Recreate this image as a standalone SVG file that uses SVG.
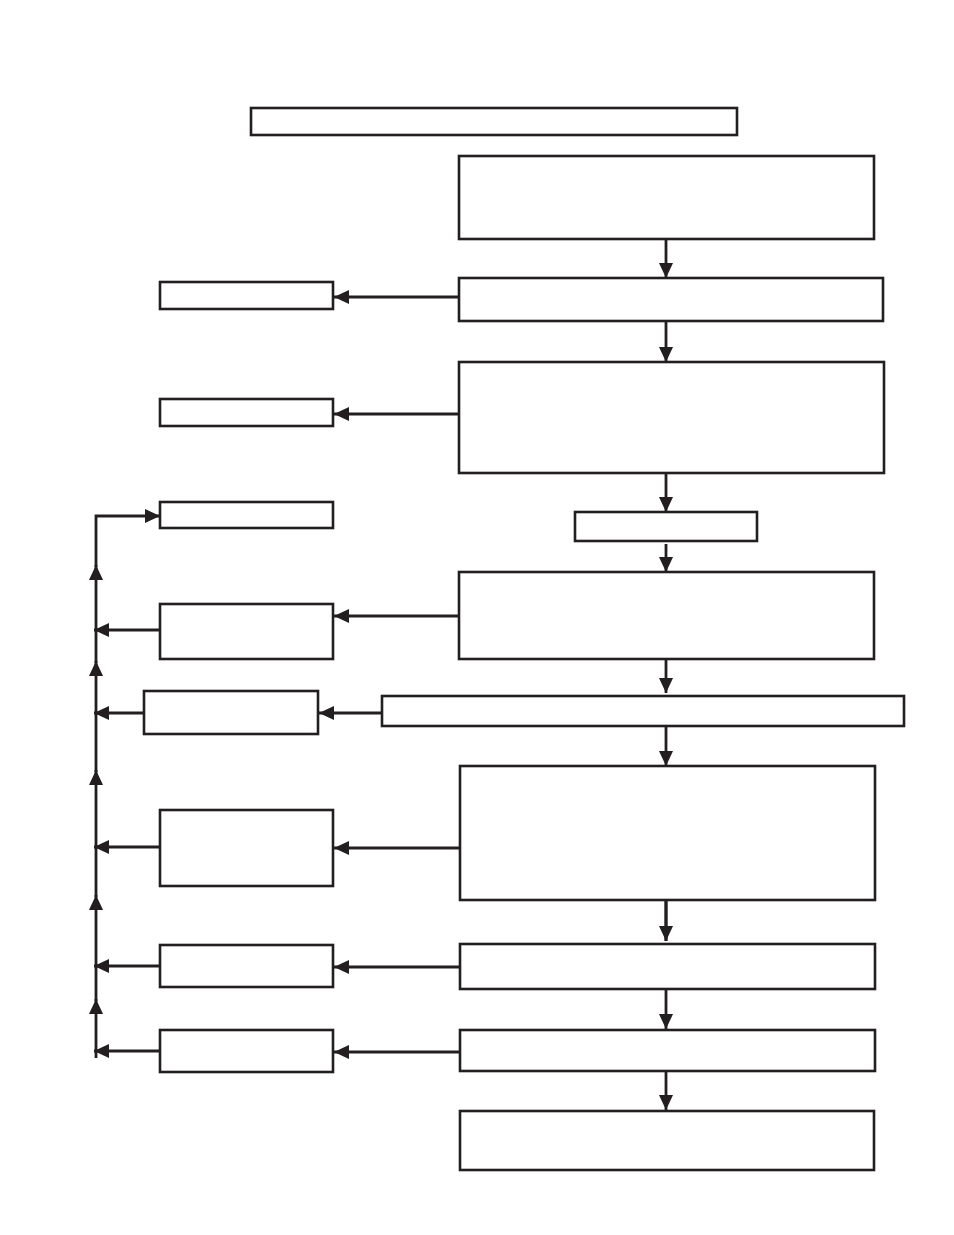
<svg xmlns="http://www.w3.org/2000/svg" width="954" height="1235" viewBox="0 0 954 1235">
<style>
.box{fill:#fff;stroke:#231f20;stroke-width:2.6}
.c{fill:none;stroke:#231f20;stroke-width:2.8}
</style>
<defs>
<marker id="ah" markerUnits="userSpaceOnUse" markerWidth="15" markerHeight="14" refX="15" refY="7" orient="auto">
<path d="M0,0 L15,7 L0,14 z" fill="#231f20"/>
</marker>
</defs>
<rect width="954" height="1235" fill="#fff"/>
<g id="title"><rect class="box" x="251" y="108" width="486" height="27"/></g>
<g id="b1"><rect class="box" x="459" y="156" width="415" height="83"/></g>
<g id="b2"><rect class="box" x="459" y="278" width="424" height="43"/></g>
<g id="b3"><rect class="box" x="459" y="362" width="425" height="111"/></g>
<g id="b4"><rect class="box" x="575" y="512" width="182" height="29"/></g>
<g id="b5"><rect class="box" x="459" y="572" width="415" height="87"/></g>
<g id="b6"><rect class="box" x="382" y="696" width="522" height="30"/></g>
<g id="b7"><rect class="box" x="460" y="766" width="415" height="134"/></g>
<g id="b8"><rect class="box" x="460" y="944" width="415" height="45"/></g>
<g id="b9"><rect class="box" x="460" y="1030" width="415" height="41"/></g>
<g id="b10"><rect class="box" x="460" y="1111" width="414" height="59"/></g>
<g id="l1"><rect class="box" x="160" y="282" width="173" height="27"/></g>
<g id="l2"><rect class="box" x="160" y="399" width="173" height="27"/></g>
<g id="l3"><rect class="box" x="160" y="502" width="173" height="26"/></g>
<g id="l4"><rect class="box" x="160" y="604" width="173" height="55"/></g>
<g id="l5"><rect class="box" x="144" y="691" width="174" height="43"/></g>
<g id="l6"><rect class="box" x="160" y="810" width="173" height="76"/></g>
<g id="l7"><rect class="box" x="160" y="945" width="173" height="42"/></g>
<g id="l8"><rect class="box" x="160" y="1030" width="173" height="42"/></g>
<g id="connectors">
<line class="c" x1="666" y1="240" x2="666" y2="278" marker-end="url(#ah)"/>
<line class="c" x1="666" y1="322" x2="666" y2="362" marker-end="url(#ah)"/>
<line class="c" x1="666" y1="474" x2="666" y2="512" marker-end="url(#ah)"/>
<line class="c" x1="666" y1="544" x2="666" y2="572" marker-end="url(#ah)"/>
<line class="c" x1="666" y1="660" x2="666" y2="693" marker-end="url(#ah)"/>
<line class="c" x1="666" y1="727" x2="666" y2="766" marker-end="url(#ah)"/>
<line class="c" x1="666" y1="901" x2="666" y2="941" marker-end="url(#ah)" style="stroke-width:3.4"/>
<line class="c" x1="666" y1="990" x2="666" y2="1029" marker-end="url(#ah)"/>
<line class="c" x1="666" y1="1072" x2="666" y2="1110" marker-end="url(#ah)"/>
<line class="c" x1="459" y1="297" x2="334" y2="297" marker-end="url(#ah)"/>
<line class="c" x1="459" y1="414" x2="334" y2="414" marker-end="url(#ah)"/>
<line class="c" x1="459" y1="616" x2="334" y2="616" marker-end="url(#ah)"/>
<line class="c" x1="382" y1="713" x2="319" y2="713" marker-end="url(#ah)"/>
<line class="c" x1="460" y1="848" x2="334" y2="848" marker-end="url(#ah)"/>
<line class="c" x1="460" y1="967" x2="334" y2="967" marker-end="url(#ah)"/>
<line class="c" x1="460" y1="1052" x2="334" y2="1052" marker-end="url(#ah)"/>
<line class="c" x1="160" y1="630" x2="94" y2="630" marker-end="url(#ah)"/>
<line class="c" x1="144" y1="713" x2="94" y2="713" marker-end="url(#ah)"/>
<line class="c" x1="160" y1="847" x2="94" y2="847" marker-end="url(#ah)"/>
<line class="c" x1="160" y1="966" x2="94" y2="966" marker-end="url(#ah)"/>
<line class="c" x1="160" y1="1051" x2="94" y2="1051" marker-end="url(#ah)"/>
<line class="c" x1="96" y1="1058" x2="96" y2="999" marker-end="url(#ah)"/>
<line class="c" x1="96" y1="1001" x2="96" y2="895" marker-end="url(#ah)"/>
<line class="c" x1="96" y1="897" x2="96" y2="770" marker-end="url(#ah)"/>
<line class="c" x1="96" y1="772" x2="96" y2="661" marker-end="url(#ah)"/>
<line class="c" x1="96" y1="663" x2="96" y2="565" marker-end="url(#ah)"/>
<polyline class="c" points="96,567 96,516 160,516" marker-end="url(#ah)"/>
</g>
</svg>
